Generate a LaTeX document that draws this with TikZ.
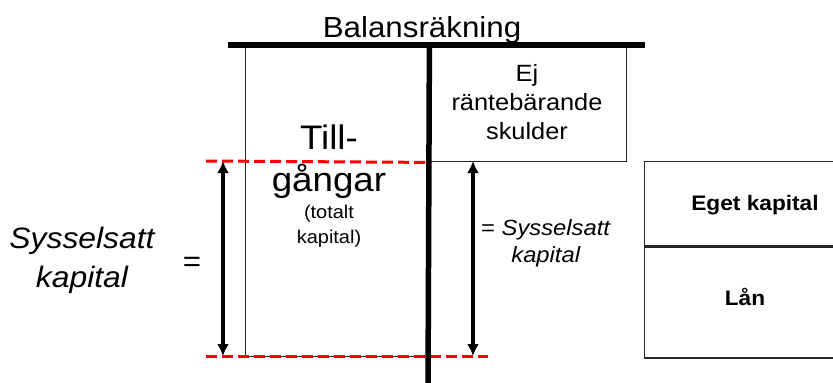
\documentclass[tikz,border=0pt]{standalone}
\usepackage{fontspec}
\setmainfont{Liberation Sans}[FakeStretch=1.08]
\usetikzlibrary{positioning, calc, arrows.meta}

\begin{document}
\begin{tikzpicture}[x=1pt, y=-1pt,
	account/.style={rectangle, draw=black!85, line width=1.4pt, inner sep=0pt, anchor=north west},
	bar/.style={line width=5.5pt},
	level/.style={draw=red, line width=3pt, dash pattern=on 11pt off 5pt},
	span/.style={line width=4pt, {Latex[length=12pt,width=12pt]}-{Latex[length=12pt,width=12pt]}},
	txt/.style={align=center, inner sep=0pt}
	]
	\useasboundingbox (0,0) rectangle (833,383);

	% balance sheet boxes
	\node[account, minimum width=183pt, minimum height=311pt] (assets) at (245,45) {};
	\node[account, minimum width=198pt, minimum height=116pt] (debts) at (428,45) {};
	\node[account, minimum width=222pt, minimum height=84pt] (equity) at (644,161) {};
	\node[account, minimum width=222pt, minimum height=111pt] (loans) at (equity.south west) {};

	% levels
	\coordinate (lvtop) at (206,161);
	\coordinate (lvbot) at (206,356);
	\coordinate (lvend) at (488,356);
	\draw[level] (lvtop) -- (debts.south west);
	\draw[level] (lvbot) -- (lvend);

	% spans
	\coordinate (lefttop) at (223,161);
	\coordinate (leftbot) at (223,356);
	\coordinate (midtop) at (473,161);
	\coordinate (midbot) at (473,356);
	\draw[span] (lefttop) -- (leftbot);
	\draw[span] (midtop) -- (midbot);

	% the T
	\coordinate (tl) at (228,45);
	\coordinate (tr) at (645,45);
	\coordinate (foot) at (428,390);
	\draw[bar] (tl) -- (tr);
	\draw[bar] (assets.north east) -- (foot);

	% texts
	\node[txt, font=\fontsize{29}{35}\selectfont, anchor=base] (title) at (422,37) {Balansräkning};
	\node[txt, font=\fontsize{34}{42}\selectfont] (assetname) at (329,162) {Till-\\gångar};
	\node[txt, font=\fontsize{18.5}{25}\selectfont] (assetnote) at (329,226) {(totalt\\kapital)};
	\node[txt, font=\fontsize{23.5}{29}\selectfont] (debtname) at (527,102) {Ej\\räntebärande\\skulder};
	\node[txt, font=\fontsize{22}{27}\selectfont] (capright) at (546,243) {= \textit{Sysselsatt}\\\textit{kapital}};
	\node[txt, font=\fontsize{29.5}{39}\selectfont\itshape] (capleft) at (82,260) {Sysselsatt\\kapital};
	\node[txt, font=\fontsize{29}{35}\selectfont] (equals) at (192,264) {=};
	\node[txt, font=\fontsize{21}{25}\selectfont\bfseries, anchor=base] (equityname) at (755,210) {Eget kapital};
	\node[txt, font=\fontsize{21}{25}\selectfont\bfseries, anchor=base] (loanname) at (745,305) {Lån};
\end{tikzpicture}
\end{document}
